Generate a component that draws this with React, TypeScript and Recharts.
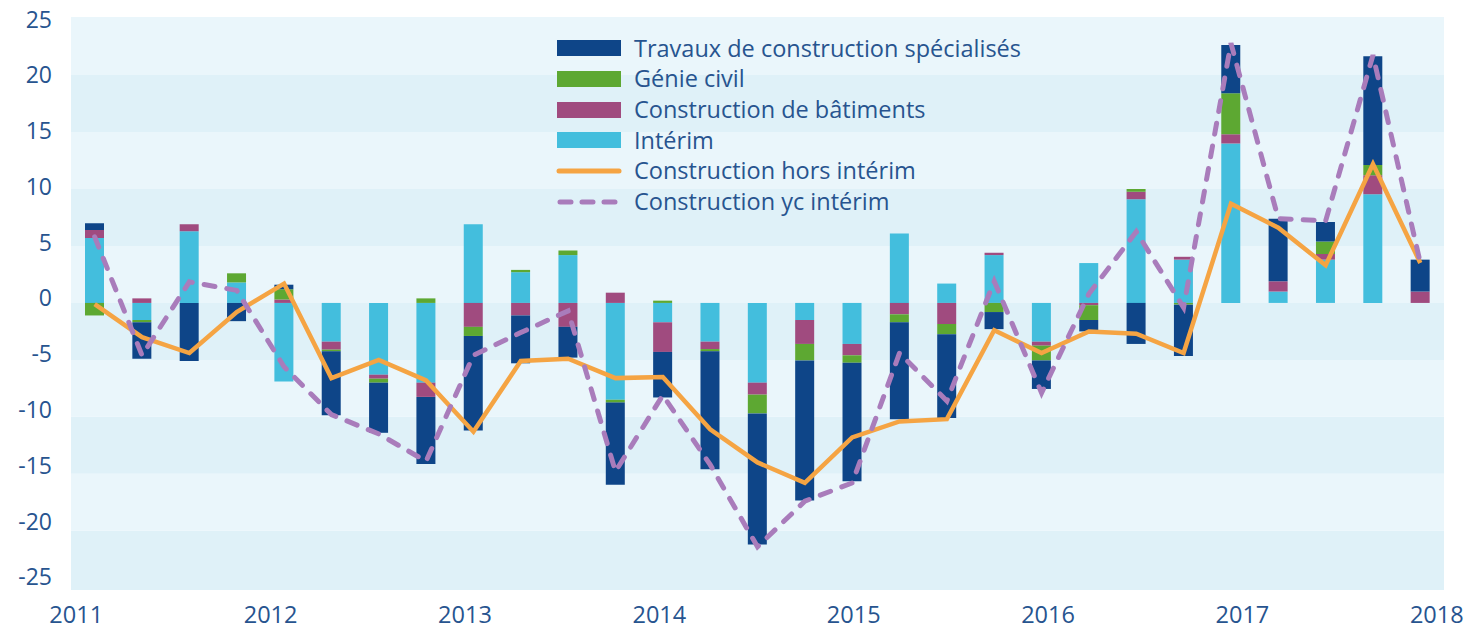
import React from 'react';
import { ComposedChart, Bar, Line, XAxis, YAxis, ReferenceArea, Legend } from 'recharts';

// ---- Data (quarterly contributions, 2011 T1 – 2018 T1) ----
const quarters = [
  '2011 T1', '2011 T2', '2011 T3', '2011 T4',
  '2012 T1', '2012 T2', '2012 T3', '2012 T4',
  '2013 T1', '2013 T2', '2013 T3', '2013 T4',
  '2014 T1', '2014 T2', '2014 T3', '2014 T4',
  '2015 T1', '2015 T2', '2015 T3', '2015 T4',
  '2016 T1', '2016 T2', '2016 T3', '2016 T4',
  '2017 T1', '2017 T2', '2017 T3', '2017 T4',
  '2018 T1',
];

const interim = [
  5.7, -1.5, 6.3, 1.8,
  -6.9, -3.4, -6.3, -7.0,
  6.9, 2.7, 4.2, -8.5,
  -1.7, -3.4, -7.0, -1.5,
  -3.6, 6.1, 1.7, 4.2,
  -3.4, 3.5, 9.1, 3.8,
  14.0, 1.0, 3.8, 9.55,
  0,
];

const batiments = [
  0.7, 0.4, 0.6, 0,
  0.3, -0.7, -0.35, -1.25,
  -2.1, -1.1, -2.1, 0.9,
  -2.6, -0.65, -1.05, -2.1,
  -1.0, -1.0, -1.85, 0.2,
  -0.35, -0.2, 0.65, 0.25,
  0.8, 0.9, 0.5, 1.65,
  1.0,
];

const genieCivil = [
  -1.1, -0.2, 0, 0.8,
  0.9, -0.15, -0.35, 0.4,
  -0.8, 0.2, 0.4, -0.25,
  0.2, -0.2, -1.65, -1.45,
  -0.65, -0.7, -0.9, -0.8,
  -1.3, -1.3, 0.25, -0.15,
  3.6, 0, 1.1, 0.9,
  0,
];

const travaux = [
  0.6, -3.2, -5.1, -1.6,
  0.4, -5.6, -4.4, -5.9,
  -8.3, -4.2, -2.7, -7.2,
  -4.0, -10.35, -11.5, -12.3,
  -10.4, -8.5, -7.35, -1.5,
  -2.5, -1.0, -3.6, -4.5,
  4.25, 5.5, 1.7, 9.55,
  2.8,
];

const horsInterim = [
  -0.1, -3.0, -4.4, -0.8,
  1.7, -6.6, -5.0, -6.8,
  -11.3, -5.1, -4.9, -6.6,
  -6.5, -11.1, -14.0, -15.8,
  -11.8, -10.4, -10.2, -2.4,
  -4.4, -2.5, -2.7, -4.4,
  8.7, 6.6, 3.3, 12.2,
  3.5,
];

const ycInterim = [
  5.8, -4.6, 1.85, 1.1,
  -5.6, -9.8, -11.5, -13.9,
  -4.6, -2.6, -0.7, -14.8,
  -8.1, -14.2, -21.4, -17.4,
  -15.8, -4.4, -8.6, 1.9,
  -7.9, 0.8, 6.25, -0.4,
  22.8, 7.4, 7.2, 21.75,
  3.5,
];

const yTicks = [-25, -20, -15, -10, -5, 0, 5, 10, 15, 20, 25];
const yearTicks = [2011, 2012, 2013, 2014, 2015, 2016, 2017, 2018];

// value scale used by the bars, lines and bands
const Y_DOMAIN: [number, number] = [-25.2, 25.1];
// the printed tick labels sit on a slightly tighter scale than the bands
const Y_LABEL_DOMAIN: [number, number] = [-26.14, 25.21];
const YEAR_DOMAIN: [number, number] = [2010.973, 2018.037];

const data = quarters.map((q, i) => ({
  q,
  // time value of the quarter (year + quarter fraction), parsed from the label
  date: Number(q.slice(0, 4)) + (Number(q.slice(-1)) - 1) / 4,
  interim: interim[i],
  batiments: batiments[i],
  genieCivil: genieCivil[i],
  travaux: travaux[i],
  horsInterim: horsInterim[i],
  ycInterim: ycInterim[i],
}));

// ---- Styles ----
const COLORS = {
  travaux: '#0e4588',
  genie: '#5da832',
  bat: '#a04b7f',
  interim: '#43bedd',
  hors: '#f5a443',
  yc: '#a97cbb',
  text: '#27548f',
  bandLight: '#eaf6fb',
  bandDark: '#dff1f8',
};
const FONT = '"Open Sans", "DejaVu Sans", sans-serif';

// band edges: domain limits plus the inner ticks
const bandEdges = [Y_DOMAIN[0], ...yTicks.slice(1, -1), Y_DOMAIN[1]];
const bands = bandEdges.slice(0, -1).map((lo, i) => ({
  lo,
  hi: bandEdges[i + 1],
  fill: i % 2 === 0 ? COLORS.bandDark : COLORS.bandLight,
}));

const legendItems = [
  { label: 'Travaux de construction spécialisés', color: COLORS.travaux, kind: 'box' },
  { label: 'Génie civil', color: COLORS.genie, kind: 'box' },
  { label: 'Construction de bâtiments', color: COLORS.bat, kind: 'box' },
  { label: 'Intérim', color: COLORS.interim, kind: 'box' },
  { label: 'Construction hors intérim', color: COLORS.hors, kind: 'line' },
  { label: 'Construction yc intérim', color: COLORS.yc, kind: 'dash' },
];

function LegendContent() {
  return (
    <div style={{ fontFamily: FONT, fontSize: 23.5, color: COLORS.text, lineHeight: 1 }}>
      {legendItems.map((it) => (
        <div key={it.label} style={{ display: 'flex', alignItems: 'center', height: 30.7 }}>
          <svg width={66} height={20} style={{ marginRight: 12, flex: 'none' }}>
            {it.kind === 'box' && <rect x={1} y={2} width={64} height={16} fill={it.color} />}
            {it.kind === 'line' && (
              <line x1={3} y1={10} x2={63} y2={10} stroke={it.color} strokeWidth={5} strokeLinecap="round" />
            )}
            {it.kind === 'dash' && (
              <line
                x1={4}
                y1={10}
                x2={64}
                y2={10}
                stroke={it.color}
                strokeWidth={5}
                strokeLinecap="round"
                strokeDasharray="11 11"
              />
            )}
          </svg>
          <span>{it.label}</span>
        </div>
      ))}
    </div>
  );
}

export default function App() {
  return (
    <div style={{ width: 1456, height: 630, marginTop: -8 }}>
      <ComposedChart
        width={1456}
        height={630}
        data={data}
        stackOffset="sign"
        margin={{ top: 17, right: 20, bottom: 0, left: 0 }}
        barSize={19}
      >
        <XAxis
          xAxisId="yr"
          dataKey="date"
          type="number"
          orientation="bottom"
          domain={YEAR_DOMAIN}
          allowDataOverflow
          ticks={yearTicks}
          interval={0}
          height={40}
          axisLine={false}
          tickLine={false}
          tickSize={0}
          tickMargin={16}
          tick={{ fill: COLORS.text, fontSize: 23.5, fontFamily: FONT }}
        />
        <XAxis xAxisId="cat" dataKey="q" type="category" orientation="top" hide />
        <YAxis
          yAxisId="lab"
          type="number"
          orientation="left"
          domain={Y_LABEL_DOMAIN}
          allowDataOverflow
          ticks={yTicks}
          interval={0}
          width={63}
          axisLine={false}
          tickLine={false}
          tickSize={0}
          tickMargin={19}
          tick={{ fill: COLORS.text, fontSize: 23, fontFamily: FONT }}
        />
        <YAxis
          yAxisId="val"
          type="number"
          orientation="right"
          domain={Y_DOMAIN}
          allowDataOverflow
          hide
        />
        {bands.map((b) => (
          <ReferenceArea
            key={b.lo}
            xAxisId="cat"
            yAxisId="val"
            y1={b.lo}
            y2={b.hi}
            fill={b.fill}
            fillOpacity={1}
            stroke="none"
            ifOverflow="visible"
          />
        ))}
        <Bar xAxisId="cat" yAxisId="val" dataKey="interim" stackId="s" fill={COLORS.interim} isAnimationActive={false} />
        <Bar xAxisId="cat" yAxisId="val" dataKey="batiments" stackId="s" fill={COLORS.bat} isAnimationActive={false} />
        <Bar xAxisId="cat" yAxisId="val" dataKey="genieCivil" stackId="s" fill={COLORS.genie} isAnimationActive={false} />
        <Bar xAxisId="cat" yAxisId="val" dataKey="travaux" stackId="s" fill={COLORS.travaux} isAnimationActive={false} />
        <Line
          xAxisId="cat"
          yAxisId="val"
          type="linear"
          dataKey="horsInterim"
          stroke={COLORS.hors}
          strokeWidth={4.5}
          dot={false}
          activeDot={false}
          isAnimationActive={false}
        />
        <Line
          xAxisId="cat"
          yAxisId="val"
          type="linear"
          dataKey="ycInterim"
          stroke={COLORS.yc}
          strokeWidth={5}
          strokeDasharray="11 12"
          strokeLinecap="round"
          dot={false}
          activeDot={false}
          isAnimationActive={false}
        />
        <Legend
          layout="vertical"
          align="center"
          verticalAlign="middle"
          content={<LegendContent />}
          wrapperStyle={{ left: 548, top: 33, width: 'auto', height: 'auto' }}
        />
      </ComposedChart>
    </div>
  );
}
